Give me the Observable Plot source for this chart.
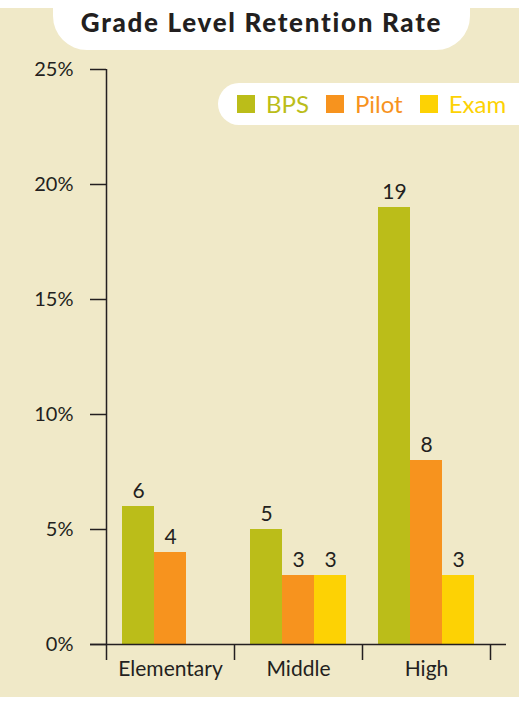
<!DOCTYPE html>
<html><head><meta charset="utf-8">
<script src="https://cdn.jsdelivr.net/npm/d3@7"></script>
<script src="https://cdn.jsdelivr.net/npm/@observablehq/plot@0.6"></script>
<style>
html,body{margin:0;padding:0;background:#fff;}
#wrap{position:relative;width:519px;height:701px;overflow:hidden;background:#fff;font-family:Lato,"Open Sans",sans-serif;}
#panel{position:absolute;left:0;top:8px;width:519px;height:689px;background:#f0e9c8;}
#tab{position:absolute;left:53px;top:0;width:417px;height:50px;background:#fff;border-radius:0 0 34px 34px;text-align:center;}
#tab h1{margin:0;padding-top:7px;font-size:26px;line-height:30px;font-weight:900;color:#231f20;letter-spacing:1.7px;}
#legend{position:absolute;left:218px;top:83px;width:320px;height:42px;background:#fff;border-radius:21px 0 0 21px;display:flex;align-items:center;padding-left:19px;box-sizing:border-box;}
.item{display:flex;align-items:center;margin-right:17px;font-size:24px;line-height:24px;}
.sw{width:18px;height:18px;margin-right:11px;}
</style></head>
<body><div id="wrap"><div id="panel"></div><div id="tab"><h1>Grade Level Retention Rate</h1></div><div id="legend"></div></div>
<script>
const grades = ["Elementary", "Middle", "High"];
const series = ["BPS", "Pilot", "Exam"];
const bps = [6, 5, 19];
const pilot = [4, 3, 8];
const exam = [null, 3, 3];
const colors = ["#bbbd19", "#f7931e", "#fdd204"];
const yTicks = [0, 5, 10, 15, 20, 25];
const groupEdges = [0, 1, 2, 3];

const values = [bps, pilot, exam];
const rows = grades.flatMap((g, gi) => values.map((arr, si) => ({grade: g, gi, series: series[si], si, value: arr[gi]})))
  .filter(d => d.value != null);
const bx1 = d => d.gi + 0.125 + d.si * 0.25;
const bx2 = d => bx1(d) + 0.25;
const bmid = d => bx1(d) + 0.125;
const ink = "#231f20";

const chart = Plot.plot({
  width: 519, height: 689,
  marginLeft: 90, marginRight: 13, marginTop: 61, marginBottom: 53,
  x: {type: "linear", domain: [-0.125, 3.125], label: null},
  y: {domain: [0, 25], label: null},
  color: {domain: series, range: colors},
  style: {background: "transparent", fontFamily: "Lato, 'Open Sans', sans-serif", fontSize: "19px", color: ink, overflow: "visible"},
  marks: [
    Plot.rect(rows, {x1: bx1, x2: bx2, y1: 0, y2: "value", fill: "series"}),
    Plot.text(rows, {x: bmid, y: "value", text: d => String(d.value), dy: -15, fill: ink, fontSize: 21}),
    Plot.ruleY([0], {stroke: ink, strokeWidth: 1.5}),
    Plot.ruleX([0], {stroke: ink, strokeWidth: 1.5}),
    Plot.ruleY(yTicks, {x1: -0.125, x2: 0, stroke: ink, strokeWidth: 1.5}),
    Plot.axisY(yTicks, {tickSize: 0, tickPadding: 17, tickFormat: d => d + "%", fontSize: 20, label: null}),
    Plot.axisX(groupEdges, {tickSize: 16, tickFormat: () => "", stroke: ink, strokeWidth: 1.5, label: null}),
    Plot.axisX(grades.map((g, i) => i + 0.5), {tickSize: 0, tickPadding: 17, tickFormat: d => grades[Math.floor(d)], fontSize: 21, letterSpacing: 1.3, label: null})
  ]
});
chart.style.position = "absolute";
chart.style.left = "0px";
chart.style.top = "8px";
document.getElementById("wrap").insertBefore(chart, document.getElementById("tab"));

const leg = document.getElementById("legend");
series.forEach((s, i) => {
  const it = document.createElement("div");
  it.className = "item";
  it.style.color = colors[i];
  const sw = document.createElement("div");
  sw.className = "sw";
  sw.style.background = colors[i];
  it.appendChild(sw);
  it.appendChild(document.createTextNode(s));
  leg.appendChild(it);
});
</script></body></html>
